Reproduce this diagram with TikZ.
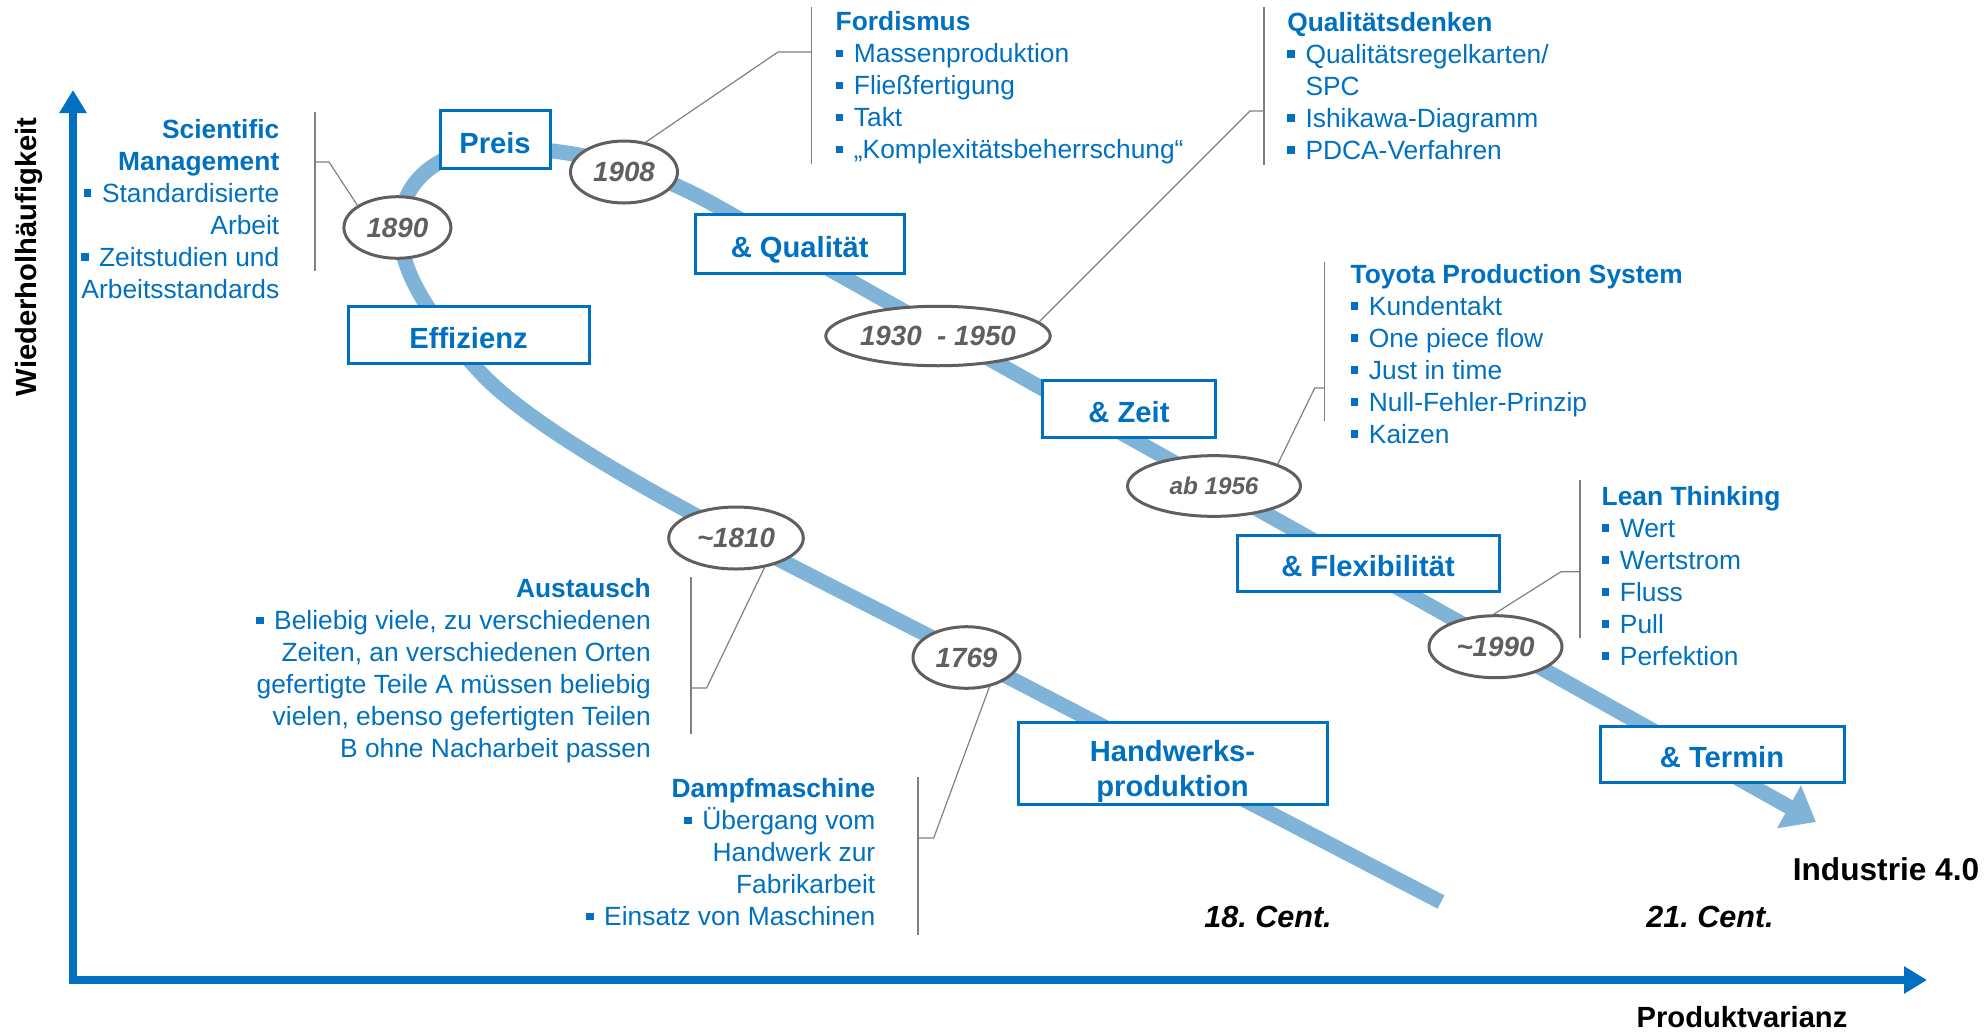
\documentclass[tikz,border=0pt]{standalone}
\usepackage{fontspec}
\setmainfont{Liberation Sans}
\usepackage{tikz}
\usetikzlibrary{arrows.meta,shapes.geometric}

\definecolor{axisblue}{RGB}{0,112,192}
\definecolor{curveblue}{RGB}{128,179,216}
\definecolor{yeargray}{RGB}{95,95,95}
\definecolor{leadgray}{RGB}{128,128,128}

\newcommand{\bul}{\rule[0.39ex]{0.55ex}{0.55ex}\hspace{0.4em}}

\begin{document}
\begin{tikzpicture}[x=0.1mm, y=-0.1mm,
	curve/.style={draw=curveblue, line width=1.5mm},
	axis/.style={draw=axisblue, line width=0.77mm,
		{Triangle[length=2.3mm,width=2.6mm]}-{Triangle[length=2.3mm,width=2.6mm]}},
	stage/.style={draw=axisblue, line width=0.3mm, fill=white, text=axisblue,
		font=\fontsize{8.3}{10}\selectfont\bfseries, align=center, inner sep=0,
		text height=2.7mm, text depth=0mm},
	year/.style={ellipse, draw=yeargray, line width=0.3mm, fill=white, text=yeargray,
		font=\fontsize{7.9}{9}\selectfont\bfseries\itshape, inner sep=0},
	info/.style={text=axisblue, font=\fontsize{7.5}{9.1}\selectfont, inner sep=0},
	leader/.style={draw=leadgray, line width=0.12mm},
	label/.style={font=\fontsize{8.3}{10}\selectfont\bfseries, inner sep=0}]
	\useasboundingbox (0,0) rectangle (1987,1032);

	% axes
	\coordinate (ytip) at (73,90);
	\coordinate (origin) at (73,980);
	\coordinate (xtip) at (1927,980);
	\draw[axis] (ytip) -- (origin) -- (xtip);
	\node (ylabel) at (37,257) [label, rotate=90, anchor=base] {Wiederholhäufigkeit};
	\node (xlabel) at (1742,1027) [label, anchor=base] {Produktvarianz};
	\node (ind) at (1886,880) [label, font=\fontsize{9}{10}\selectfont\bfseries, anchor=base] {Industrie 4.0};
	\node (c18) at (1268,927) [label, font=\fontsize{8.7}{10}\selectfont\bfseries\itshape, anchor=base] {18.\ Cent.};
	\node (c21) at (1710,927) [label, font=\fontsize{8.7}{10}\selectfont\bfseries\itshape, anchor=base] {21.\ Cent.};

	% the path of production
	\draw[curve, -{Triangle[length=3.1mm,width=4.7mm]}] (1441,902) -- (960,652)
		.. controls (800,569) and (555,453) .. (480,372)
		.. controls (430,318) and (398,270) .. (400,225)
		.. controls (402,180) and (440,148) .. (500,148)
		.. controls (580,148) and (650,168) .. (720,208) -- (1816,822);

	% stages
	\node (preis) at (495,139.5) [stage, minimum width=11mm, minimum height=5.76mm] {Preis};
	\node (effizienz) at (468.5,335) [stage, minimum width=24.1mm, minimum height=5.66mm] {Effizienz};
	\node (qualitaet) at (799.7,244) [stage, minimum width=20.9mm, minimum height=5.83mm] {\& Qualität};
	\node (zeit) at (1129,409) [stage, minimum width=17.3mm, minimum height=5.7mm] {\& Zeit};
	\node (flex) at (1368,563) [stage, minimum width=26.2mm, minimum height=5.6mm] {\& Flexibilität};
	\node (termin) at (1722,754) [stage, minimum width=24.4mm, minimum height=5.6mm] {\& Termin};
	\node (handwerk) at (1172.5,763.5) [stage, minimum width=30.9mm, minimum height=8.16mm,
		text height=7.2mm, text depth=0.6mm] {Handwerks-\\produktion};

	% years
	\node (y1890) at (397.4,227.5) [year, minimum width=10.7mm, minimum height=6.16mm] {1890};
	\node (y1908) at (624,172) [year, minimum width=10.7mm, minimum height=6.2mm] {1908};
	\node (y1930) at (938,336) [year, minimum width=22.45mm, minimum height=5.95mm] {1930\ \ - 1950};
	\node (y1956) at (1214,486) [year, font=\fontsize{6.9}{8}\selectfont\bfseries\itshape, minimum width=17.3mm, minimum height=6.07mm] {ab 1956};
	\node (y1990) at (1495.5,646.7) [year, minimum width=13.3mm, minimum height=6.2mm] {\textasciitilde1990};
	\node (y1810) at (736,538) [year, minimum width=13.46mm, minimum height=6.2mm] {\textasciitilde1810};
	\node (y1769) at (966.5,657.5) [year, minimum width=10.7mm, minimum height=6.16mm] {1769};

	% texts (anchored on the baseline of their last line)
	\node (sci) at (280,298.3) [info, anchor=base east, align=right]
		{\textbf{Scientific}\\ \textbf{Management}\\ \bul Standardisierte\\ Arbeit\\ \bul Zeitstudien und\\ Arbeitsstandards};
	\node (ford) at (835,158.7) [info, anchor=base west, align=left]
		{\textbf{Fordismus}\\ \bul Massenproduktion\\ \bul Fließfertigung\\ \bul Takt\\ \bul „Komplexitätsbeherrschung“};
	\node (qual) at (1286.6,159.5) [info, anchor=base west, align=left]
		{\textbf{Qualitätsdenken}\\ \bul Qualitätsregelkarten/\\ \hphantom{\bul}SPC\\ \bul Ishikawa-Diagramm\\ \bul PDCA-Verfahren};
	\node (tps) at (1350,443.3) [info, anchor=base west, align=left]
		{\textbf{Toyota Production System}\\ \bul Kundentakt\\ \bul One piece flow\\ \bul Just in time\\ \bul Null-Fehler-Prinzip\\ \bul Kaizen};
	\node (lean) at (1601,665) [info, anchor=base west, align=left]
		{\textbf{Lean Thinking}\\ \bul Wert\\ \bul Wertstrom\\ \bul Fluss\\ \bul Pull\\ \bul Perfektion};
	\node (aust) at (651.5,757.7) [info, anchor=base east, align=right]
		{\textbf{Austausch}\\ \bul Beliebig viele, zu verschiedenen\\ Zeiten, an verschiedenen Orten\\ gefertigte Teile A müssen beliebig\\ vielen, ebenso gefertigten Teilen\\ B ohne Nacharbeit passen};
	\node (dampf) at (876,925.7) [info, anchor=base east, align=right]
		{\textbf{Dampfmaschine}\\ \bul Übergang vom\\ Handwerk zur\\ Fabrikarbeit\\ \bul Einsatz von Maschinen};

	% brackets
	\coordinate (sciT) at (315,112);  \coordinate (sciB) at (315,271);
	\coordinate (sciJ) at (315,162);  \coordinate (sciK) at (329,162);
	\coordinate (fordT) at (811.5,7); \coordinate (fordB) at (811.5,164);
	\coordinate (fordJ) at (811.5,52); \coordinate (fordK) at (778,52);
	\coordinate (qualT) at (1264,7); \coordinate (qualB) at (1264,165);
	\coordinate (qualJ) at (1264,111); \coordinate (qualK) at (1250,111);
	\coordinate (tpsT) at (1324.7,262); \coordinate (tpsB) at (1324.7,421);
	\coordinate (tpsJ) at (1324.7,388); \coordinate (tpsK) at (1314.7,388);
	\coordinate (leanT) at (1580,480); \coordinate (leanB) at (1580,638);
	\coordinate (leanJ) at (1580,571.7); \coordinate (leanK) at (1561,571.7);
	\coordinate (austT) at (691,577); \coordinate (austB) at (691,734);
	\coordinate (austJ) at (691,688); \coordinate (austK) at (706.6,688);
	\coordinate (dampfT) at (918,777); \coordinate (dampfB) at (918,935);
	\coordinate (dampfJ) at (918,838); \coordinate (dampfK) at (933.7,838);

	\draw[leader] (sciT) -- (sciB);
	\draw[leader] (fordT) -- (fordB);
	\draw[leader] (qualT) -- (qualB);
	\draw[leader] (tpsT) -- (tpsB);
	\draw[leader] (leanT) -- (leanB);
	\draw[leader] (austT) -- (austB);
	\draw[leader] (dampfT) -- (dampfB);

	\draw[leader] (y1890.151) -- (sciK) -- (sciJ);
	\draw[leader] (y1908.54) -- (fordK) -- (fordJ);
	\draw[leader] (y1930.8) -- (qualK) -- (qualJ);
	\draw[leader] (y1956.19) -- (tpsK) -- (tpsJ);
	\draw[leader] (y1990.93) -- (leanK) -- (leanJ);
	\draw[leader] (y1810.-46) -- (austK) -- (austJ);
	\draw[leader] (y1769.-52) -- (dampfK) -- (dampfJ);
\end{tikzpicture}
\end{document}
